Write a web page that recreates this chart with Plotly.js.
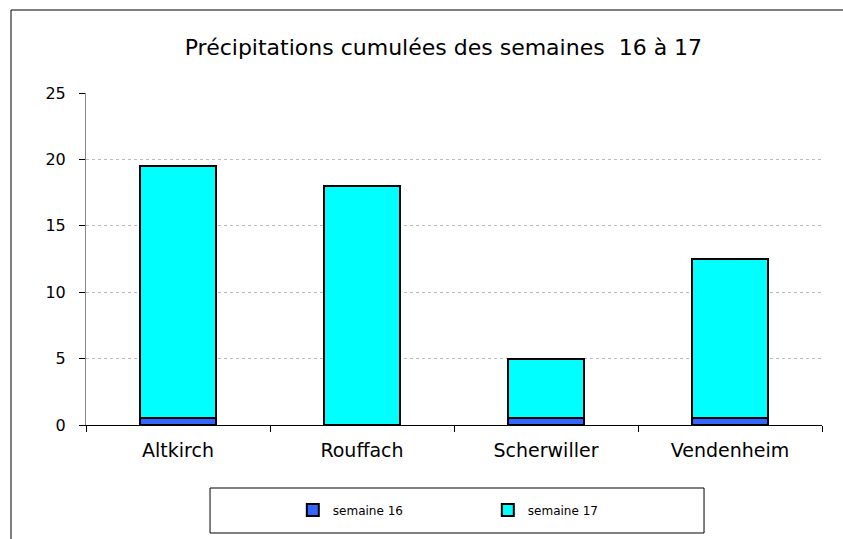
<!DOCTYPE html>
<html>
<head>
<meta charset="utf-8">
<script src="https://cdn.plot.ly/plotly-3.0.1.min.js"></script>
<style>html,body{margin:0;padding:0;background:#fff;}</style>
</head>
<body>
<div id="chart" style="width:843px;height:539px;"></div>
<script>
const categories = ["Altkirch", "Rouffach", "Scherwiller", "Vendenheim"];
const semaine16 = [0.5, 0, 0.5, 0.5];
const semaine17 = [19, 18, 4.5, 12];
const yTicks = [0, 5, 10, 15, 20, 25];

const traces = [
  {type: "bar", name: "semaine 16", x: categories, y: semaine16,
   marker: {color: "#3366FF", line: {color: "#000", width: 2}}},
  {type: "bar", name: "semaine 17", x: categories, y: semaine17,
   marker: {color: "#00FFFF", line: {color: "#000", width: 2}}}
];

const layout = {
  width: 843, height: 539,
  margin: {l: 86, r: 21, t: 93, b: 114},
  paper_bgcolor: "#fff", plot_bgcolor: "#fff",
  font: {family: "DejaVu Sans, sans-serif", color: "#000"},
  barmode: "stack",
  bargap: 0.59,
  title: {text: "Précipitations cumulées des semaines  16 à 17", font: {size: 22, color: "#000"},
          x: 0.526, xanchor: "center", y: 0.913, yanchor: "middle"},
  xaxis: {type: "category", tickson: "boundaries", ticks: "outside", ticklen: 6, tickcolor: "#000",
          showline: true, linecolor: "#000", linewidth: 1, showgrid: false, ticklabelstandoff: 8,
          tickfont: {size: 19, color: "#000"}, fixedrange: true},
  yaxis: {range: [0, 25], tickvals: yTicks, ticks: "outside", ticklen: 6, tickcolor: "#000",
          showline: true, linecolor: "#888", linewidth: 1, ticklabelstandoff: 10,
          showgrid: true, gridcolor: "#bbb", griddash: "dot", gridwidth: 1, zeroline: false,
          tickfont: {size: 16, color: "#000"}, fixedrange: true},
  showlegend: true,
  legend: {orientation: "h", x: 0.281, xanchor: "left", y: -0.256, yanchor: "middle",
           entrywidth: 150, entrywidthmode: "pixels", traceorder: "normal",
           font: {size: 12, color: "#000"}, bgcolor: "rgba(0,0,0,0)", borderwidth: 0},
  shapes: [
    {type: "rect", xref: "paper", yref: "paper", x0: -0.1019, x1: 1.1, y0: -0.4, y1: 1.250,
     line: {color: "#000", width: 1}, fillcolor: "rgba(0,0,0,0)", layer: "below"},
    {type: "rect", xref: "paper", yref: "paper", x0: 0.1685, x1: 0.8397, y0: -0.3253, y1: -0.1898,
     line: {color: "#000", width: 1}, fillcolor: "rgba(0,0,0,0)"}
  ]
};

Plotly.newPlot("chart", traces, layout, {displayModeBar: false, staticPlot: true});
</script>
</body>
</html>
